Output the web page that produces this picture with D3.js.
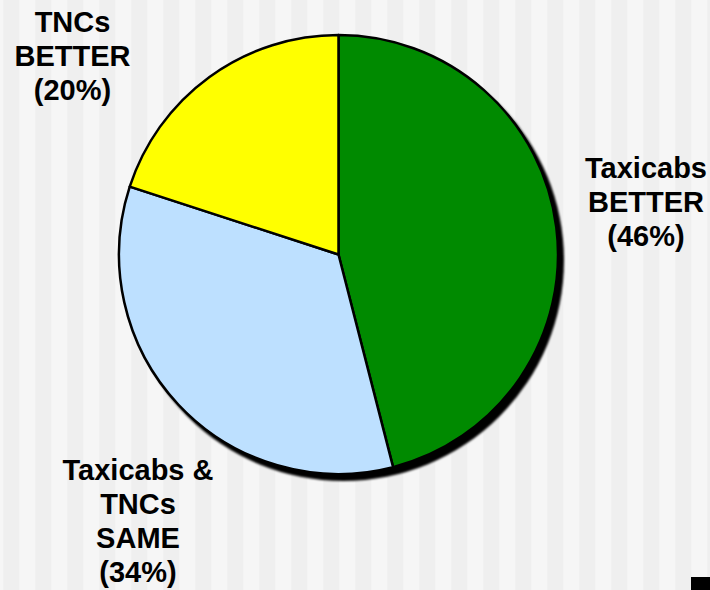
<!DOCTYPE html>
<html>
<head>
<meta charset="utf-8">
<script src="https://cdn.jsdelivr.net/npm/d3@7"></script>
<style>
  html, body { margin: 0; padding: 0; background: #f6f6f6; }
  svg { display: block; }
</style>
</head>
<body>
<svg id="chart"></svg>
<script>
// data
const categories = ["Taxicabs BETTER", "Taxicabs & TNCs SAME", "TNCs BETTER"];
const shares = [46, 34, 20];
const labelLines = [
  ["Taxicabs", "BETTER", "(46%)"],
  ["Taxicabs &", "TNCs", "SAME", "(34%)"],
  ["TNCs", "BETTER", "(20%)"]
];
const sliceColors = ["#008a00", "#bde0ff", "#ffff00"];

const width = 710;
const height = 590;
const cx = 338.5, cy = 254.5, radius = 219.5;

const svg = d3.select("#chart")
  .attr("width", width)
  .attr("height", height)
  .attr("viewBox", [0, 0, width, height]);

// striped background
svg.append("rect").attr("width", width).attr("height", height).attr("fill", "#f6f6f6");
svg.append("g")
  .selectAll("rect")
  .data(d3.range(3.3 - 32, width, 32))
  .join("rect")
  .attr("x", d => d)
  .attr("y", 0)
  .attr("width", 16)
  .attr("height", height)
  .attr("fill", "#efefef");

const defs = svg.append("defs");
defs.append("filter").attr("id", "blur")
  .attr("x", "-10%").attr("y", "-10%").attr("width", "120%").attr("height", "120%")
  .append("feGaussianBlur").attr("stdDeviation", 1);

const pie = d3.pie().sort(null).value(d => d);
const arcs = pie(shares);
const arc = d3.arc().innerRadius(0).outerRadius(radius);

const g = svg.append("g").attr("transform", `translate(${cx},${cy})`);

// shadow
g.append("circle")
  .attr("cx", 5)
  .attr("cy", 6)
  .attr("r", radius + 1)
  .attr("fill", "#000")
  .attr("filter", "url(#blur)");

g.selectAll("path.slice")
  .data(arcs)
  .join("path")
  .attr("class", "slice")
  .attr("d", arc)
  .attr("fill", (d, i) => sliceColors[i])
  .attr("stroke", "#000")
  .attr("stroke-width", 2.5)
  .attr("stroke-linejoin", "round");

// label anchors (centre x, mean baseline y) relative to pie centre
const labelPos = [[307.5, -43], [-200.5, 276.5], [-266, -189]];
const lineH = 34;
g.selectAll("text.lbl")
  .data(arcs)
  .join("text")
  .attr("class", "lbl")
  .attr("font-family", "'Liberation Sans', Arial, sans-serif")
  .attr("font-weight", "bold")
  .attr("font-size", 29)
  .attr("fill", "#000")
  .attr("text-anchor", "middle")
  .each(function (d, i) {
    const [x, y] = labelPos[i];
    const lines = labelLines[i];
    const top = y - (lines.length - 1) * lineH / 2;
    d3.select(this).selectAll("tspan")
      .data(lines)
      .join("tspan")
      .attr("x", x)
      .attr("y", (t, j) => top + j * lineH)
      .text(t => t);
  });

// small dark corner block
svg.append("rect")
  .attr("x", 691).attr("y", 577)
  .attr("width", 19).attr("height", 13)
  .attr("fill", "#000");
</script>
</body>
</html>
